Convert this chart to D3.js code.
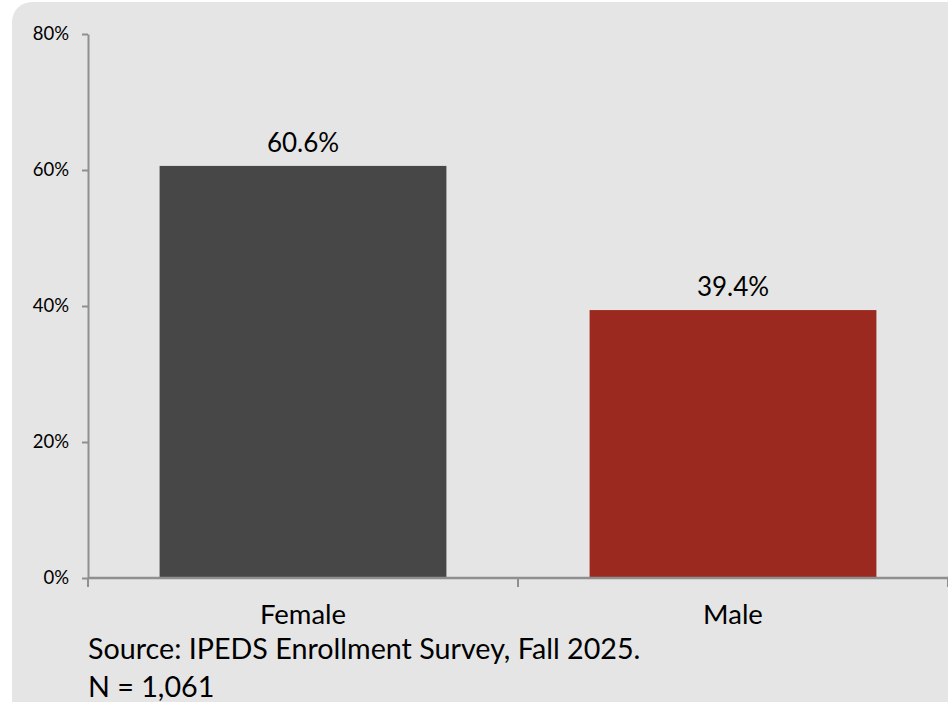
<!DOCTYPE html>
<html>
<head>
<meta charset="utf-8">
<script src="https://cdn.jsdelivr.net/npm/d3@7"></script>
<style>
  html, body { margin: 0; padding: 0; background: #ffffff; }
  svg { display: block; font-family: Lato, "Open Sans", sans-serif; }
</style>
</head>
<body>
<svg id="chart" width="948" height="702"></svg>
<script>
const categories = ["Female", "Male"];
const values = [60.6, 39.4];
const barColors = ["#474747", "#9c2920"];
const yTicks = [0, 20, 40, 60, 80];
const notes = ["Source: IPEDS Enrollment Survey, Fall 2025.", "N = 1,061"];

const svg = d3.select("#chart");
const W = 948, H = 702;

// panel
svg.append("rect")
  .attr("x", 12).attr("y", 2)
  .attr("width", W + 40).attr("height", H + 40)
  .attr("rx", 20).attr("ry", 20)
  .attr("fill", "#e5e5e5");

const y = d3.scaleLinear().domain([0, 80]).range([578, 34]);
const x = d3.scaleBand().domain(categories).range([88, 948])
  .paddingInner(0.333).paddingOuter(0.1665);

const axisColor = "#8f8f8f";

// y axis
const yAxis = svg.append("g").attr("transform", "translate(88,0)")
  .call(d3.axisLeft(y).tickValues(yTicks).tickSize(6).tickSizeOuter(0)
    .tickPadding(13).tickFormat(d => d + "%"));
yAxis.select(".domain").attr("stroke", axisColor).attr("stroke-width", 2);
yAxis.selectAll(".tick line").attr("stroke", axisColor).attr("stroke-width", 2);
yAxis.selectAll(".tick text").attr("font-family", "Lato, sans-serif")
  .attr("font-size", 18.5).attr("fill", "#000");

// bars
svg.append("g").selectAll("rect").data(categories).join("rect")
  .attr("x", d => x(d))
  .attr("y", (d, i) => y(values[i]))
  .attr("width", x.bandwidth())
  .attr("height", (d, i) => y(0) - y(values[i]))
  .attr("fill", (d, i) => barColors[i]);

// x axis line
svg.append("line")
  .attr("x1", 88).attr("x2", 948)
  .attr("y1", y(0)).attr("y2", y(0))
  .attr("stroke", axisColor).attr("stroke-width", 2.5);

// x ticks at band boundaries
const step = x.step();
const bounds = categories.map(d => x(d) - step * x.paddingInner() / 2)
  .concat([x(categories[categories.length - 1]) + x.bandwidth() + step * x.paddingInner() / 2]);
svg.append("g").selectAll("line").data(bounds).join("line")
  .attr("x1", d => d).attr("x2", d => d)
  .attr("y1", y(0)).attr("y2", y(0) + 9)
  .attr("stroke", axisColor).attr("stroke-width", 2);

// value labels
svg.append("g").selectAll("text").data(categories).join("text")
  .attr("x", d => x(d) + x.bandwidth() / 2)
  .attr("y", (d, i) => y(values[i]) - 14)
  .attr("text-anchor", "middle")
  .attr("font-size", 26).attr("fill", "#000")
  .text((d, i) => values[i].toFixed(1) + "%");

// category labels
svg.append("g").selectAll("text").data(categories).join("text")
  .attr("x", d => x(d) + x.bandwidth() / 2)
  .attr("y", 624)
  .attr("text-anchor", "middle")
  .attr("font-size", 27.5).attr("fill", "#000")
  .text(d => d);

// notes
svg.append("g").selectAll("text").data(notes).join("text")
  .attr("x", 88)
  .attr("y", (d, i) => 659 + i * 38)
  .attr("font-size", 28.7).attr("fill", "#000")
  .text(d => d);
</script>
</body>
</html>
